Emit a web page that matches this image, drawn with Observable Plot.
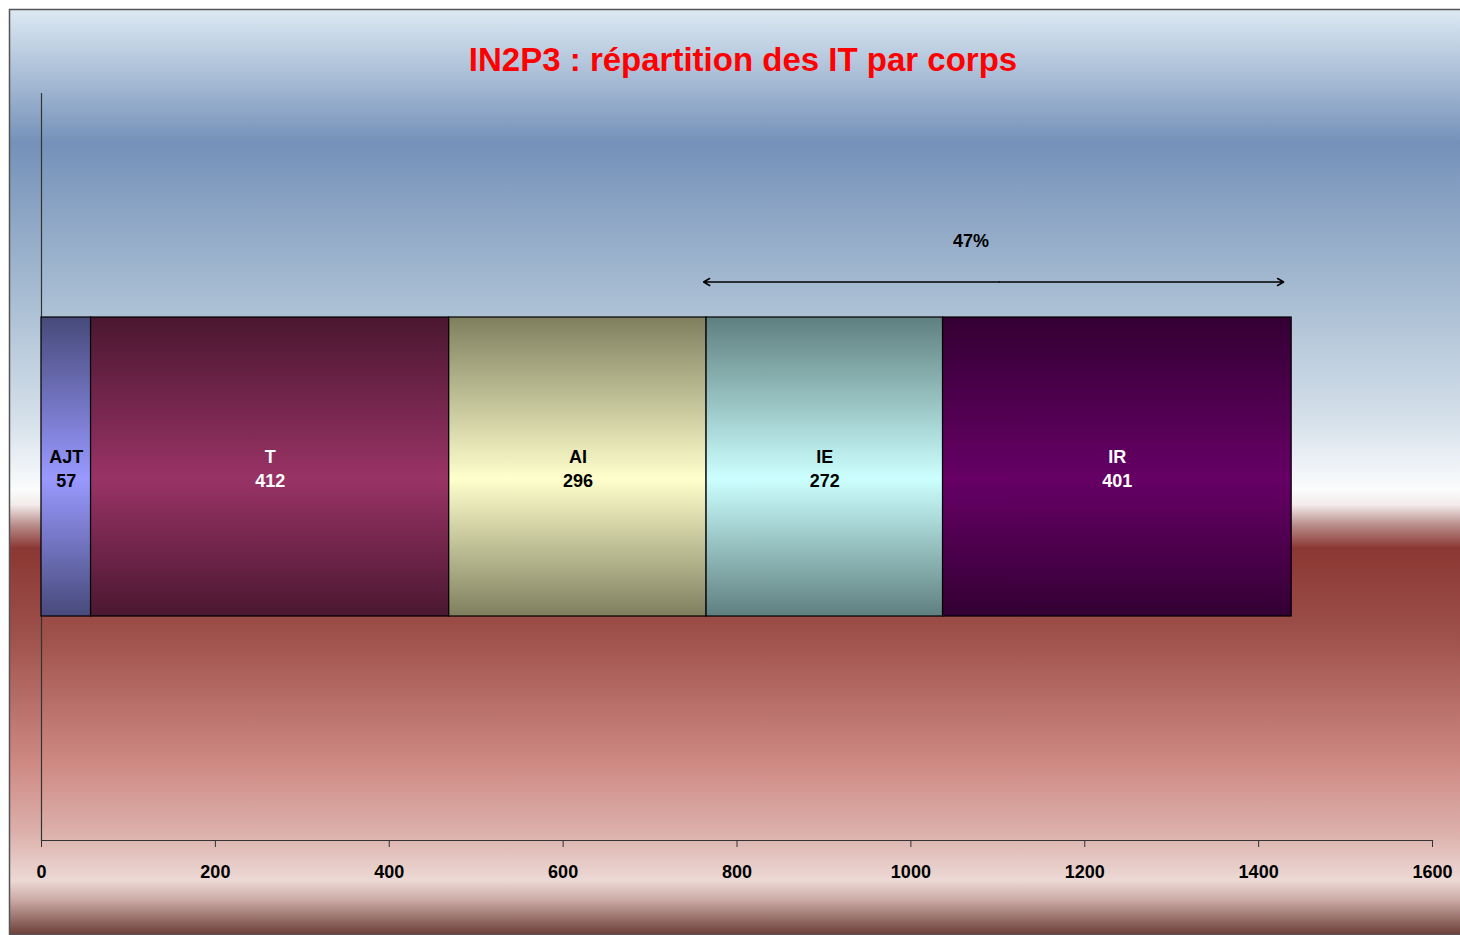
<!DOCTYPE html>
<html>
<head>
<meta charset="utf-8">
<script src="https://cdn.jsdelivr.net/npm/d3@7"></script>
<script src="https://cdn.jsdelivr.net/npm/@observablehq/plot@0.6"></script>
<style>
  html, body { margin: 0; padding: 0; background: #ffffff; }
  #chart svg { display: block; }
</style>
</head>
<body>
<div id="chart"></div>
<script>
// ---- data ----
const chartTitle = "IN2P3 : répartition des IT par corps";
const categories = ["AJT", "T", "AI", "IE", "IR"];
const counts = [57, 412, 296, 272, 401];
const xTicks = [0, 200, 400, 600, 800, 1000, 1200, 1400, 1600];
const bracketFrom = "IE"; // share of IE + IR

// ---- styles ----
const barColors = {
  AJT: ["#474a7a", "#9999ff"],
  T: ["#4a1730", "#993366"],
  AI: ["#7f7f5f", "#ffffcc"],
  IE: ["#5f7f7f", "#ccffff"],
  IR: ["#330033", "#660066"]
};
const labelColors = {AJT: "black", T: "white", AI: "black", IE: "black", IR: "white"};

const rows = categories.map((c, i) => ({cat: c, value: counts[i]}));
const total = d3.sum(counts);
const startIdx = categories.indexOf(bracketFrom);
const bracketStart = d3.sum(counts.slice(0, startIdx));
const bracketShare = Math.round(100 * (total - bracketStart) / total) + "%";
const bracketMid = (bracketStart + total) / 2;

const font = "'Liberation Sans', Arial, Helvetica, sans-serif";

const chart = Plot.plot({
  width: 1460,
  height: 935,
  marginLeft: 41,
  marginRight: 28,
  marginTop: 93,
  marginBottom: 95,
  style: {background: "transparent", fontFamily: font},
  x: {domain: [0, 1600], axis: null},
  y: {domain: ["IT"], padding: 0.428, axis: null},
  color: {type: "identity"},
  marks: [
    Plot.frame({anchor: "bottom", stroke: "#333", strokeWidth: 1.2}),
    Plot.ruleX([0], {stroke: "#333", strokeWidth: 1.2}),
    Plot.axisX({ticks: xTicks, tickFormat: "d", tickSize: 7, tickPadding: 18,
      fontSize: 18, fontWeight: "bold", fill: "black", stroke: "#333"}),
    Plot.barX(rows, Plot.stackX({
      x: "value", y: () => "IT",
      fill: d => `url(#grad-${d.cat})`,
      stroke: "black", strokeWidth: 1.2
    })),
    Plot.text(rows, Plot.stackX({
      x: "value", y: () => "IT",
      text: d => `${d.cat}\n${d.value}`,
      fill: d => labelColors[d.cat],
      fontSize: 18, fontWeight: "bold", lineHeight: 1.38
    })),
    Plot.arrow([{a: bracketMid, b: bracketStart}], {
      x1: "a", x2: "b", y1: () => "IT", y2: () => "IT", dy: -185,
      stroke: "black", strokeWidth: 1.5, headLength: 7, insetEnd: -3
    }),
    Plot.arrow([{a: bracketMid, b: total}], {
      x1: "a", x2: "b", y1: () => "IT", y2: () => "IT", dy: -185,
      stroke: "black", strokeWidth: 1.5, headLength: 7, insetEnd: 8
    }),
    Plot.text([bracketShare], {
      x: () => bracketMid, y: () => "IT", text: d => d, dy: -226, dx: -28,
      fontSize: 18, fontWeight: "bold", fill: "black"
    }),
    Plot.text([chartTitle], {
      frameAnchor: "top", lineAnchor: "middle", text: d => d, dy: -33, dx: 6,
      fontSize: 33, fontWeight: "bold", fill: "#ff0000"
    })
  ]
});

document.getElementById("chart").appendChild(chart);

// gradient definitions and background panel
const svg = d3.select(chart);
const defs = svg.insert("defs", ":first-child");
const bg = defs.append("linearGradient").attr("id", "bg-grad")
  .attr("gradientUnits", "userSpaceOnUse")
  .attr("x1", 0).attr("y1", 10).attr("x2", 0).attr("y2", 935);
[
  [0, "#dce9f3"], [0.144, "#7591b9"], [0.314, "#a9bed3"], [0.443, "#d5e0ea"],
  [0.519, "#fbfcfd"], [0.535, "#f3ebea"], [0.557, "#b88c89"], [0.582, "#8b3733"],
  [0.672, "#9d4f49"], [0.816, "#cf8a84"], [0.889, "#dcb0ab"], [0.941, "#ecd9d5"],
  [0.962, "#cbaaa5"], [1, "#6b3d36"]
].forEach(([o, c]) => bg.append("stop").attr("offset", o).attr("stop-color", c));

Object.entries(barColors).forEach(([k, [edge, mid]]) => {
  const g = defs.append("linearGradient").attr("id", `grad-${k}`)
    .attr("x1", 0).attr("y1", 0).attr("x2", 0).attr("y2", 1);
  g.append("stop").attr("offset", 0).attr("stop-color", edge);
  g.append("stop").attr("offset", 0.54).attr("stop-color", mid);
  g.append("stop").attr("offset", 1).attr("stop-color", edge);
});

svg.insert("rect", "defs + *")
  .attr("x", 9.5).attr("y", 9.5).attr("width", 1460).attr("height", 925)
  .attr("fill", "url(#bg-grad)").attr("stroke", "#555").attr("stroke-width", 1.5);
</script>
</body>
</html>
